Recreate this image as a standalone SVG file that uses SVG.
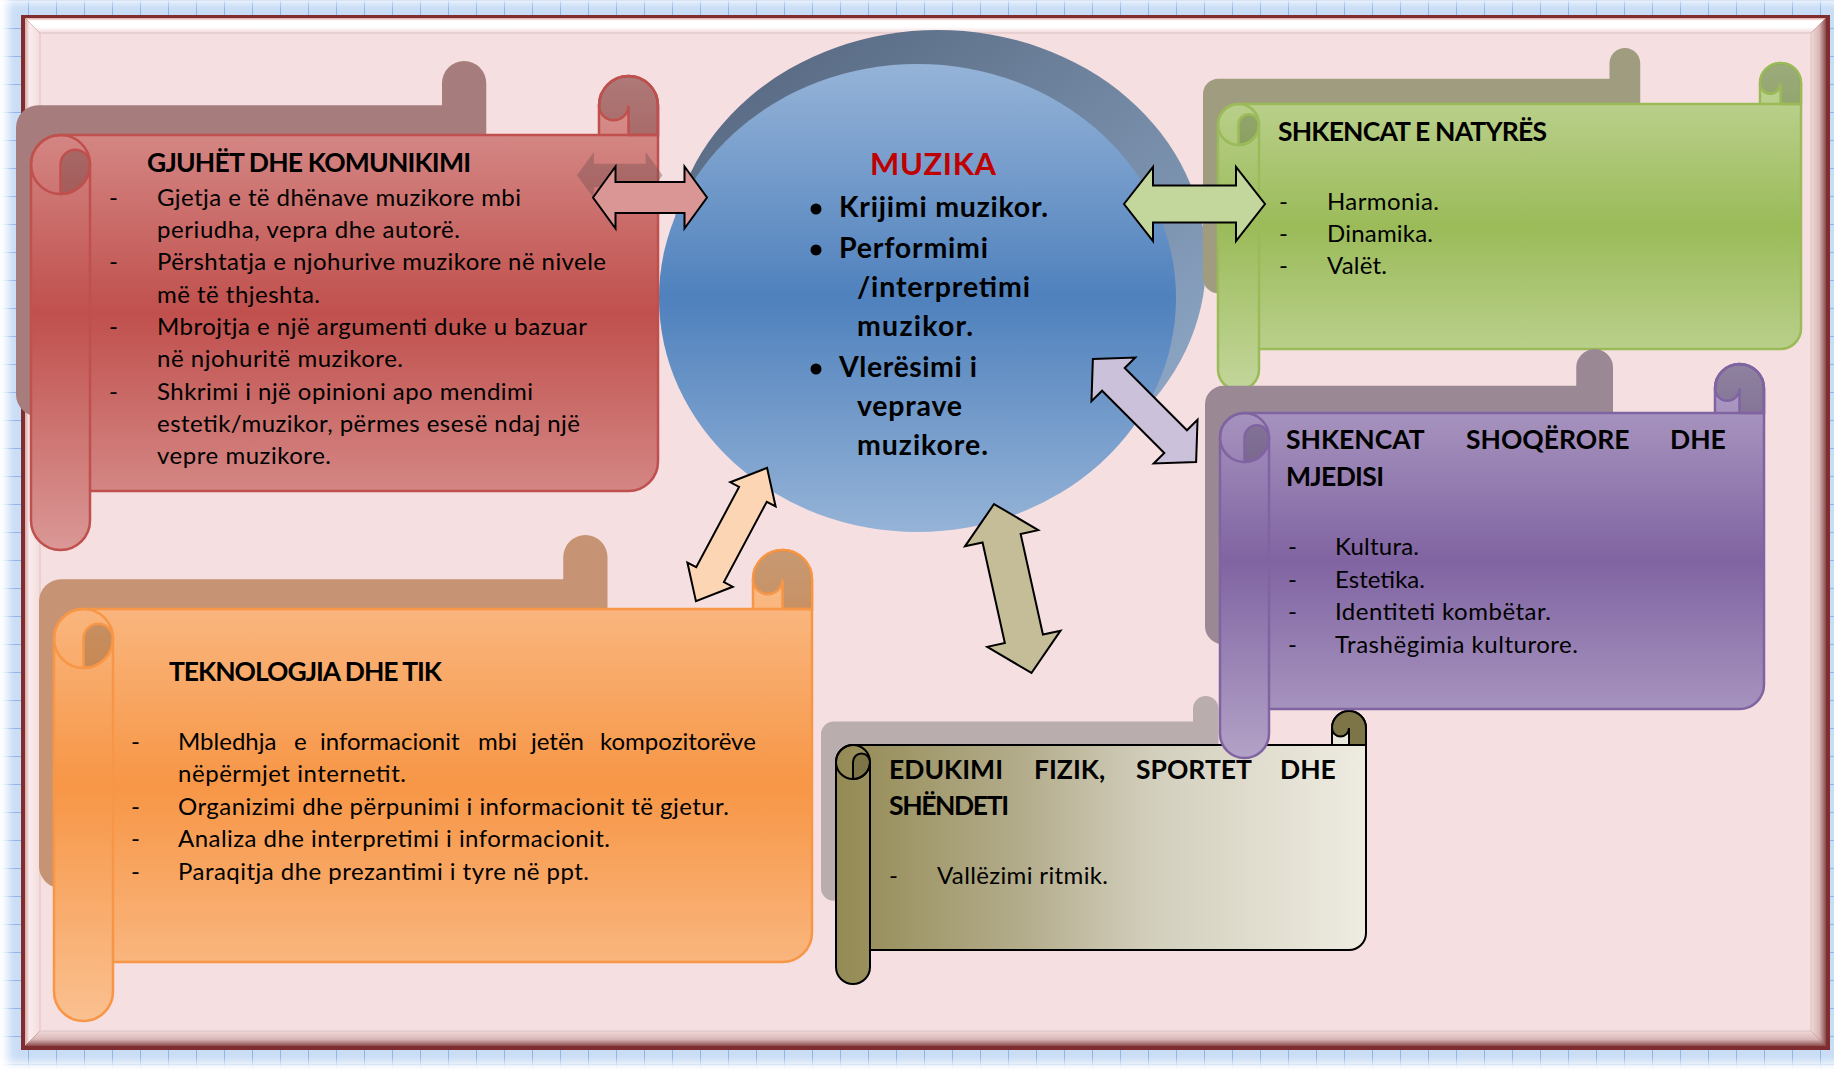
<svg xmlns="http://www.w3.org/2000/svg" width="1834" height="1070" viewBox="0 0 1834 1070">
<defs>
<style>
text{font-family:Lato,'Open Sans','Liberation Sans',sans-serif;fill:#000}
.b{font-size:24px}
.t{font-size:26.5px;font-weight:700}
.c{font-size:28.5px;font-weight:700}
.arr{stroke:#000;stroke-width:2;stroke-linejoin:miter}
.dk{fill:#000;fill-opacity:.2}
.ln{fill:none}
</style>
<pattern id="grid" width="28" height="28" patternUnits="userSpaceOnUse"><rect width="28" height="28" fill="#c9ddf6"/><path d="M0 .5H28M.5 0V28" stroke="#8fb4e6" stroke-width="1"/></pattern>
<filter id="bl" x="-5%" y="-5%" width="110%" height="110%"><feGaussianBlur stdDeviation="4"/></filter>
<mask id="gm" maskUnits="userSpaceOnUse" x="0" y="0" width="1834" height="1070"><rect x="21" y="15" width="1809" height="1035" fill="none" stroke="#fff" stroke-width="26" filter="url(#bl)"/></mask>
<linearGradient id="bevT" x1="0" y1="0" x2="0" y2="1"><stop offset="0" stop-color="#e2a3a3"/><stop offset=".18" stop-color="#fff"/><stop offset=".6" stop-color="#fff"/><stop offset="1" stop-color="#f3d7d8"/></linearGradient>
<linearGradient id="bevL" x1="0" y1="0" x2="1" y2="0"><stop offset="0" stop-color="#dba9a9"/><stop offset=".3" stop-color="#f9ecec"/><stop offset="1" stop-color="#f4dcdc"/></linearGradient>
<linearGradient id="bevR" x1="0" y1="0" x2="1" y2="0"><stop offset="0" stop-color="#f1d9d9"/><stop offset=".55" stop-color="#d9b6b6"/><stop offset="1" stop-color="#8a4a4b"/></linearGradient>
<linearGradient id="bevB" x1="0" y1="0" x2="0" y2="1"><stop offset="0" stop-color="#f1d9d9"/><stop offset=".55" stop-color="#d9b8b8"/><stop offset="1" stop-color="#8a4a4b"/></linearGradient>
<linearGradient id="gR" x1="0" y1="0" x2="0" y2="1"><stop offset="0" stop-color="#da9896"/><stop offset=".5" stop-color="#c0504d"/><stop offset="1" stop-color="#da9896"/></linearGradient>
<linearGradient id="gG" x1="0" y1="0" x2="0" y2="1"><stop offset="0" stop-color="#c3d69b"/><stop offset=".5" stop-color="#9bbb59"/><stop offset="1" stop-color="#c3d69b"/></linearGradient>
<linearGradient id="gP" x1="0" y1="0" x2="0" y2="1"><stop offset="0" stop-color="#b3a2c7"/><stop offset=".5" stop-color="#8064a2"/><stop offset="1" stop-color="#b3a2c7"/></linearGradient>
<linearGradient id="gO" x1="0" y1="0" x2="0" y2="1"><stop offset="0" stop-color="#fac090"/><stop offset=".5" stop-color="#f79646"/><stop offset="1" stop-color="#fac090"/></linearGradient>
<linearGradient id="gE" x1="0" y1="0" x2="1" y2="0"><stop offset="0" stop-color="#948a54"/><stop offset=".35" stop-color="#b3ac8b"/><stop offset=".6" stop-color="#d3cfbd"/><stop offset="1" stop-color="#eeece1"/></linearGradient>
<linearGradient id="gC" x1="0" y1="0" x2="0" y2="1"><stop offset="0" stop-color="#95b3d7"/><stop offset=".5" stop-color="#4f81bd"/><stop offset="1" stop-color="#95b3d7"/></linearGradient>
<linearGradient id="gCs" x1=".3" y1="0" x2="1" y2=".8"><stop offset="0" stop-color="#5b6d86"/><stop offset="1" stop-color="#8ea8c6"/></linearGradient>
<path id="silR" d="M31,164.5 A29.5,29.5 0 0 1 60.5,135 L599,135 L599,105.5 A29.5,29.5 0 0 1 658,105.5 L658,461.5 A29.5,29.5 0 0 1 628.5,491 L90,491 L90,520.5 A29.5,29.5 0 0 1 31,520.5 Z"/>
<path id="silG" d="M1218,124.5 A20.5,20.5 0 0 1 1238.5,104 L1760,104 L1760,83.5 A20.5,20.5 0 0 1 1801,83.5 L1801,328.5 A20.5,20.5 0 0 1 1780.5,349 L1259,349 L1259,369.5 A20.5,20.5 0 0 1 1218,369.5 Z"/>
<path id="silP" d="M1220,437.5 A24.5,24.5 0 0 1 1244.5,413 L1715,413 L1715,388.5 A24.5,24.5 0 0 1 1764,388.5 L1764,684.5 A24.5,24.5 0 0 1 1739.5,709 L1269,709 L1269,733.5 A24.5,24.5 0 0 1 1220,733.5 Z"/>
<path id="silO" d="M54,638.5 A29.5,29.5 0 0 1 83.5,609 L753,609 L753,579.5 A29.5,29.5 0 0 1 812,579.5 L812,932.5 A29.5,29.5 0 0 1 782.5,962 L113,962 L113,991.5 A29.5,29.5 0 0 1 54,991.5 Z"/>
<path id="silE" d="M836,762 A17,17 0 0 1 853,745 L1332,745 L1332,728 A17,17 0 0 1 1366,728 L1366,933 A17,17 0 0 1 1349,950 L870,950 L870,967 A17,17 0 0 1 836,967 Z"/>
</defs>

<g id="frame">
<rect width="1834" height="1070" fill="#fff"/>
<rect width="1834" height="1070" fill="url(#grid)" mask="url(#gm)"/>
<rect x="21" y="15" width="1809" height="1035" fill="#7f2d2f"/>
<polygon points="25,18 1826,18 1811,33 40,33" fill="url(#bevT)"/>
<polygon points="25,18 40,33 40,1031 25,1046" fill="url(#bevL)"/>
<polygon points="1826,18 1826,1046 1811,1031 1811,33" fill="url(#bevR)"/>
<polygon points="25,1046 1826,1046 1811,1031 40,1031" fill="url(#bevB)"/>
<rect x="40" y="33" width="1771" height="998" fill="#f6dfe0" stroke="#dcc3c3" stroke-width="1"/>
</g>

<g id="node-muzika">
<ellipse cx="938" cy="262" rx="268" ry="232" fill="url(#gCs)"/>
<ellipse cx="917.5" cy="298" rx="258.5" ry="234" fill="url(#gC)"/>
<text x="870" y="175" font-size="31" font-weight="700" style="fill:#c00000" textLength="126">MUZIKA</text>
<circle cx="816" cy="209" r="5.5"/>
<circle cx="816" cy="250" r="5.5"/>
<circle cx="816" cy="369" r="5.5"/>
<text class="c" x="839" y="217" textLength="209">Krijimi muzikor.</text>
<text class="c" x="839" y="258" textLength="149">Performimi</text>
<text class="c" x="857" y="297" textLength="173">/interpretimi</text>
<text class="c" x="857" y="336" textLength="116">muzikor.</text>
<text class="c" x="839" y="377" textLength="138">Vlerësimi i</text>
<text class="c" x="857" y="416" textLength="105">veprave</text>
<text class="c" x="857" y="455" textLength="131">muzikore.</text>
</g>

<g id="node-gjuhet">
<use href="#silR" transform="matrix(.75 0 0 .75 -7.25 4)" fill="#a67d7c"/>
<use href="#silR" fill="url(#gR)" stroke="#c0504d" stroke-width="2.5"/>
<path class="dk" stroke="#c0504d" stroke-width="2.5" d="M60.5,194 L60.5,164.5 A14.75,14.75 0 0 1 90,164.5 A29.5,29.5 0 0 1 60.5,194 Z M599,105.5 A29.5,29.5 0 0 1 658,105.5 L658,135 L628.5,135 L628.5,105.5 A14.75,14.75 0 0 1 599,105.5 Z"/>
<path class="ln" stroke="#c0504d" stroke-width="2.5" d="M90,164.5 L90,491 M599,135 L658,135"/>
<circle class="ln" cx="60.5" cy="164.5" r="29.5" stroke="#c0504d" stroke-width="2.5"/>
<text class="t" x="147" y="172" textLength="324">GJUHËT DHE KOMUNIKIMI</text>
<text class="b" x="109" y="206">-</text>
<text class="b" x="109" y="270">-</text>
<text class="b" x="109" y="335">-</text>
<text class="b" x="109" y="400">-</text>
<text class="b" x="157" y="206" textLength="364">Gjetja e të dhënave muzikore mbi</text>
<text class="b" x="157" y="238" textLength="303">periudha, vepra dhe autorë.</text>
<text class="b" x="157" y="270" textLength="449">Përshtatja e njohurive muzikore në nivele</text>
<text class="b" x="157" y="303" textLength="163">më të thjeshta.</text>
<text class="b" x="157" y="335" textLength="430">Mbrojtja e një argumenti duke u bazuar</text>
<text class="b" x="157" y="367" textLength="246">në njohuritë muzikore.</text>
<text class="b" x="157" y="400" textLength="376">Shkrimi i një opinioni apo mendimi</text>
<text class="b" x="157" y="432" textLength="423">estetik/muzikor, përmes esesë ndaj një</text>
<text class="b" x="157" y="464" textLength="174">vepre muzikore.</text>
</g>

<g id="node-natyres">
<use href="#silG" transform="matrix(.75 0 0 .75 289.5 .75)" fill="#a09c80"/>
<use href="#silG" fill="url(#gG)" stroke="#9bbb59" stroke-width="2.5"/>
<path class="dk" stroke="#9bbb59" stroke-width="2.5" d="M1238.5,145 L1238.5,124.5 A10.25,10.25 0 0 1 1259,124.5 A20.5,20.5 0 0 1 1238.5,145 Z M1760,83.5 A20.5,20.5 0 0 1 1801,83.5 L1801,104 L1780.5,104 L1780.5,83.5 A10.25,10.25 0 0 1 1760,83.5 Z"/>
<path class="ln" stroke="#9bbb59" stroke-width="2.5" d="M1259,124.5 L1259,349 M1760,104 L1801,104"/>
<circle class="ln" cx="1238.5" cy="124.5" r="20.5" stroke="#9bbb59" stroke-width="2.5"/>
<text class="t" x="1278" y="141" textLength="269">SHKENCAT E NATYRËS</text>
<text class="b" x="1279" y="210">-</text>
<text class="b" x="1279" y="242">-</text>
<text class="b" x="1279" y="274">-</text>
<text class="b" x="1327" y="210" textLength="112">Harmonia.</text>
<text class="b" x="1327" y="242" textLength="106">Dinamika.</text>
<text class="b" x="1327" y="274" textLength="60">Valët.</text>
</g>

<g id="node-teknologjia">
<use href="#silO" transform="matrix(.75 0 0 .75 -1.5 122.5)" fill="#c69474"/>
<use href="#silO" fill="url(#gO)" stroke="#f79646" stroke-width="2.5"/>
<path class="dk" stroke="#f79646" stroke-width="2.5" d="M83.5,668 L83.5,638.5 A14.75,14.75 0 0 1 113,638.5 A29.5,29.5 0 0 1 83.5,668 Z M753,579.5 A29.5,29.5 0 0 1 812,579.5 L812,609 L782.5,609 L782.5,579.5 A14.75,14.75 0 0 1 753,579.5 Z"/>
<path class="ln" stroke="#f79646" stroke-width="2.5" d="M113,638.5 L113,962 M753,609 L812,609"/>
<circle class="ln" cx="83.5" cy="638.5" r="29.5" stroke="#f79646" stroke-width="2.5"/>
<text class="t" x="169" y="681" textLength="273">TEKNOLOGJIA DHE TIK</text>
<text class="b" x="131" y="750">-</text>
<text class="b" x="131" y="815">-</text>
<text class="b" x="131" y="847">-</text>
<text class="b" x="131" y="880">-</text>
<text class="b" y="750"><tspan x="178">Mbledhja</tspan><tspan x="294">e</tspan><tspan x="320">informacionit</tspan><tspan x="478">mbi</tspan><tspan x="531">jetën</tspan><tspan x="600">kompozitorëve</tspan></text>
<text class="b" x="178" y="782" textLength="228">nëpërmjet internetit.</text>
<text class="b" x="178" y="815" textLength="551">Organizimi dhe përpunimi i informacionit të gjetur.</text>
<text class="b" x="178" y="847" textLength="432">Analiza dhe interpretimi i informacionit.</text>
<text class="b" x="178" y="880" textLength="411">Paraqitja dhe prezantimi i tyre në ppt.</text>
</g>

<g id="node-edukimi">
<use href="#silE" transform="matrix(.75 0 0 .75 194 162.75)" fill="#b9adad"/>
<use href="#silE" fill="url(#gE)" stroke="#000" stroke-width="2"/>
<path fill="#7d7448" stroke="#000" stroke-width="2" d="M853,779 L853,762 A8.5,8.5 0 0 1 870,762 A17,17 0 0 1 853,779 Z M1332,728 A17,17 0 0 1 1366,728 L1366,745 L1349,745 L1349,728 A8.5,8.5 0 0 1 1332,728 Z"/>
<path class="ln" stroke="#000" stroke-width="2" d="M870,762 L870,950 M1332,745 L1366,745"/>
<circle class="ln" cx="853" cy="762" r="17" stroke="#000" stroke-width="2"/>
<text class="t" y="779"><tspan x="889">EDUKIMI</tspan><tspan x="1034">FIZIK,</tspan><tspan x="1136">SPORTET</tspan><tspan x="1280">DHE</tspan></text>
<text class="t" x="889" y="815" textLength="120">SHËNDETI</text>
<text class="b" x="889" y="884">-</text>
<text class="b" x="937" y="884" textLength="171">Vallëzimi ritmik.</text>
</g>

<g id="node-shoqerore">
<use href="#silP" transform="matrix(.75 0 0 .75 290 76)" fill="#9a8894"/>
<use href="#silP" fill="url(#gP)" stroke="#8064a2" stroke-width="2.5"/>
<path class="dk" stroke="#8064a2" stroke-width="2.5" d="M1244.5,462 L1244.5,437.5 A12.25,12.25 0 0 1 1269,437.5 A24.5,24.5 0 0 1 1244.5,462 Z M1715,388.5 A24.5,24.5 0 0 1 1764,388.5 L1764,413 L1739.5,413 L1739.5,388.5 A12.25,12.25 0 0 1 1715,388.5 Z"/>
<path class="ln" stroke="#8064a2" stroke-width="2.5" d="M1269,437.5 L1269,709 M1715,413 L1764,413"/>
<circle class="ln" cx="1244.5" cy="437.5" r="24.5" stroke="#8064a2" stroke-width="2.5"/>
<text class="t" y="449"><tspan x="1286">SHKENCAT</tspan><tspan x="1466">SHOQËRORE</tspan><tspan x="1670">DHE</tspan></text>
<text class="t" x="1286" y="486" textLength="98">MJEDISI</text>
<text class="b" x="1288" y="555">-</text>
<text class="b" x="1288" y="588">-</text>
<text class="b" x="1288" y="620">-</text>
<text class="b" x="1288" y="653">-</text>
<text class="b" x="1335" y="555" textLength="84">Kultura.</text>
<text class="b" x="1335" y="588" textLength="90">Estetika.</text>
<text class="b" x="1335" y="620" textLength="216">Identiteti kombëtar.</text>
<text class="b" x="1335" y="653" textLength="243">Trashëgimia kulturore.</text>
</g>

<g id="connectors">
<polygon points="-57,0 -34.5,-31 -34.5,-15.5 34.5,-15.5 34.5,-31 57,0 34.5,31 34.5,15.5 -34.5,15.5 -34.5,31" transform="translate(619.75 175.25) scale(.75)" fill="#705050" fill-opacity=".4"/>
<polygon class="arr" fill="#d99694" points="-57,0 -34.5,-31 -34.5,-15.5 34.5,-15.5 34.5,-31 57,0 34.5,31 34.5,15.5 -34.5,15.5 -34.5,31" transform="translate(650 197.5)"/>
<polygon class="arr" fill="#c3d69b" points="-70.5,0 -41.5,-37 -41.5,-18.5 41.5,-18.5 41.5,-37 70.5,0 41.5,37 41.5,18.5 -41.5,18.5 -41.5,37" transform="translate(1194.5 204)"/>
<polygon class="arr" fill="#ccc1da" points="-73,0 -44,-31 -44,-16 44,-16 44,-31 73,0 44,31 44,16 -44,16 -44,31" transform="translate(1144.5 410.5) rotate(45)"/>
<polygon class="arr" fill="#c4bd97" points="-86.5,0 -51.5,-37.5 -51.5,-19.5 51.5,-19.5 51.5,-37.5 86.5,0 51.5,37.5 51.5,19.5 -51.5,19.5 -51.5,37.5" transform="translate(1012.75 588.5) rotate(77.5)"/>
<polygon class="arr" fill="#fcd5b5" points="-75.5,0 -45.5,-25.7 -45.5,-15.7 45.5,-15.7 45.5,-25.7 75.5,0 45.5,25.7 45.5,15.7 -45.5,15.7 -45.5,25.7" transform="translate(731.5 534.5) rotate(-61.9)"/>
</g>
</svg>
